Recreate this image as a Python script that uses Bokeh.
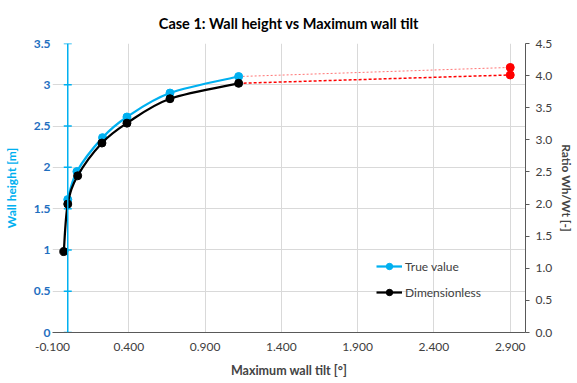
from bokeh.plotting import figure
from bokeh.models import (Range1d, LinearAxis, FixedTicker, NumeralTickFormatter,
                          CustomJSTickFormatter, Span, Legend, LegendItem)
from bokeh.embed import file_html
from bokeh.resources import INLINE

# ---- data ----
true_tilt = [0.0, 0.06, 0.228, 0.388, 0.67, 1.12]
true_height = [1.61, 1.95, 2.36, 2.61, 2.90, 3.10]

dim_tilt = [-0.026, 0.0, 0.065, 0.224, 0.388, 0.67, 1.12]
dim_ratio = [1.26, 2.0, 2.44, 2.95, 3.26, 3.64, 3.88]

extrap_tilt = [1.12, 2.9]
extrap_height = [3.10, 3.21]
extrap_ratio = [3.88, 4.01]

x_ticks = [-0.1, 0.4, 0.9, 1.4, 1.9, 2.4, 2.9]
left_ticks = [0, 0.5, 1, 1.5, 2, 2.5, 3, 3.5]
right_ticks = [0, 0.5, 1, 1.5, 2, 2.5, 3, 3.5, 4, 4.5]

BLUE = "#00B0F0"
TICKBLUE = "#1F6FBF"
FONT = "Lato"


def smooth(xs, ys):
    n = len(xs)
    out = dict(x0=[], y0=[], x1=[], y1=[], cx0=[], cy0=[], cx1=[], cy1=[])
    for i in range(n - 1):
        xp, yp = (xs[i - 1], ys[i - 1]) if i > 0 else (xs[i], ys[i])
        xn, yn = (xs[i + 2], ys[i + 2]) if i + 2 < n else (xs[i + 1], ys[i + 1])
        out["x0"].append(xs[i]); out["y0"].append(ys[i])
        out["x1"].append(xs[i + 1]); out["y1"].append(ys[i + 1])
        out["cx0"].append(xs[i] + (xs[i + 1] - xp) / 6)
        out["cy0"].append(ys[i] + (ys[i + 1] - yp) / 6)
        out["cx1"].append(xs[i + 1] - (xn - xs[i]) / 6)
        out["cy1"].append(ys[i + 1] - (yn - ys[i]) / 6)
    return out


p = figure(width=577, height=383, output_backend="svg", toolbar_location=None,
           x_range=Range1d(-0.1, 3.0), y_range=Range1d(0, 3.5),
           min_border_left=48, min_border_right=48, min_border_top=43,
           min_border_bottom=51, background_fill_color="white",
           border_fill_color="white")
p.outline_line_color = None
p.extra_y_ranges = {"ratio": Range1d(0, 4.5)}

p.title.text = "Case 1: Wall height vs Maximum wall tilt"
p.title.text_font = FONT
p.title.text_font_size = "14.5px"
p.title.text_font_style = "bold"
p.title.align = "center"
p.title.text_color = "#000000"
p.title.standoff = 24

# x axis
xa = p.xaxis[0]
xa.ticker = FixedTicker(ticks=x_ticks)
xa.formatter = NumeralTickFormatter(format="0.000")
xa.axis_label = "Maximum wall tilt [°]"
xa.axis_label_text_font = FONT
xa.axis_label_text_font_style = "bold"
xa.axis_label_text_font_size = "12.5px"
xa.axis_label_standoff = 9
xa.major_label_text_font = FONT
xa.major_label_text_font_size = "12px"
xa.major_label_text_color = "#404040"
xa.major_label_standoff = 4
xa.major_tick_line_color = None
xa.minor_tick_line_color = None
xa.axis_line_color = "#595959"
xa.axis_line_width = 1

# left axis
ya = p.yaxis[0]
ya.ticker = FixedTicker(ticks=left_ticks)
ya.formatter = CustomJSTickFormatter(code="return String(Math.round(tick*10)/10);")
ya.axis_label = "Wall height [m]"
ya.axis_label_text_font = FONT
ya.axis_label_text_font_style = "bold"
ya.axis_label_text_font_size = "12px"
ya.axis_label_text_color = BLUE
ya.axis_label_standoff = 12
ya.major_label_text_font = FONT
ya.major_label_text_font_size = "12px"
ya.major_label_text_font_style = "bold"
ya.major_label_text_color = TICKBLUE
ya.major_label_standoff = -4
ya.major_tick_line_color = None
ya.minor_tick_line_color = None
ya.axis_line_color = None

# right axis
ra = LinearAxis(y_range_name="ratio", ticker=FixedTicker(ticks=right_ticks),
                formatter=NumeralTickFormatter(format="0.0"))
ra.axis_label = "Ratio Wh/Wt [-]"
ra.axis_label_text_font = FONT
ra.axis_label_text_font_style = "bold"
ra.axis_label_text_font_size = "12px"
ra.axis_label_standoff = 4
ra.major_label_text_font = FONT
ra.major_label_text_font_size = "12px"
ra.major_label_text_color = "#404040"
ra.major_label_standoff = 6
ra.major_tick_in = 0
ra.major_tick_out = 4
ra.major_tick_line_color = "#595959"
ra.minor_tick_line_color = None
ra.axis_line_color = "#595959"
p.add_layout(ra, "right")

# grids
p.xgrid.ticker = FixedTicker(ticks=x_ticks)
p.ygrid.ticker = FixedTicker(ticks=left_ticks)
p.xgrid.grid_line_color = "#D9D9D9"
p.ygrid.grid_line_color = "#D9D9D9"

# blue vertical axis at x = 0 with cross ticks
p.add_layout(Span(location=0, dimension="height", line_color=BLUE, line_width=1.5))
p.scatter(x=[0] * len(left_ticks), y=left_ticks, marker="dash", size=8,
          line_color=BLUE, line_width=1.5)

# extrapolation (red)
p.line(extrap_tilt, extrap_height, line_color="red", line_width=1, line_alpha=0.55,
       line_dash="2 2")
p.line(extrap_tilt, extrap_ratio, y_range_name="ratio", line_color="red",
       line_width=1.5, line_dash="3 2")
p.scatter([extrap_tilt[1]], [extrap_height[1]], size=8, color="red")
p.scatter([extrap_tilt[1]], [extrap_ratio[1]], size=8, color="red", y_range_name="ratio")

# true value (blue)
sb = smooth(true_tilt, true_height)
br = p.bezier(source=sb, x0="x0", y0="y0", x1="x1", y1="y1", cx0="cx0", cy0="cy0",
              cx1="cx1", cy1="cy1", line_color=BLUE, line_width=2.25)
bs = p.scatter(true_tilt, true_height, size=8, color=BLUE)

# dimensionless (black)
sk = smooth(dim_tilt, dim_ratio)
kr = p.bezier(source=sk, x0="x0", y0="y0", x1="x1", y1="y1", cx0="cx0", cy0="cy0",
              cx1="cx1", cy1="cy1", line_color="black", line_width=2.25,
              y_range_name="ratio")
ks = p.scatter(dim_tilt, dim_ratio, size=8, color="black", y_range_name="ratio")

legend = Legend(items=[LegendItem(label="True value", renderers=[br, bs]),
                       LegendItem(label="Dimensionless", renderers=[kr, ks])],
                location=(324, 32), padding=0, spacing=10, glyph_width=26,
                glyph_height=16, label_height=16, label_standoff=3,
                label_text_font=FONT, label_text_font_size="12px",
                label_text_color="#404040", border_line_color=None,
                background_fill_alpha=0)
p.add_layout(legend)

open("out.html", "w").write(file_html(p, INLINE))
